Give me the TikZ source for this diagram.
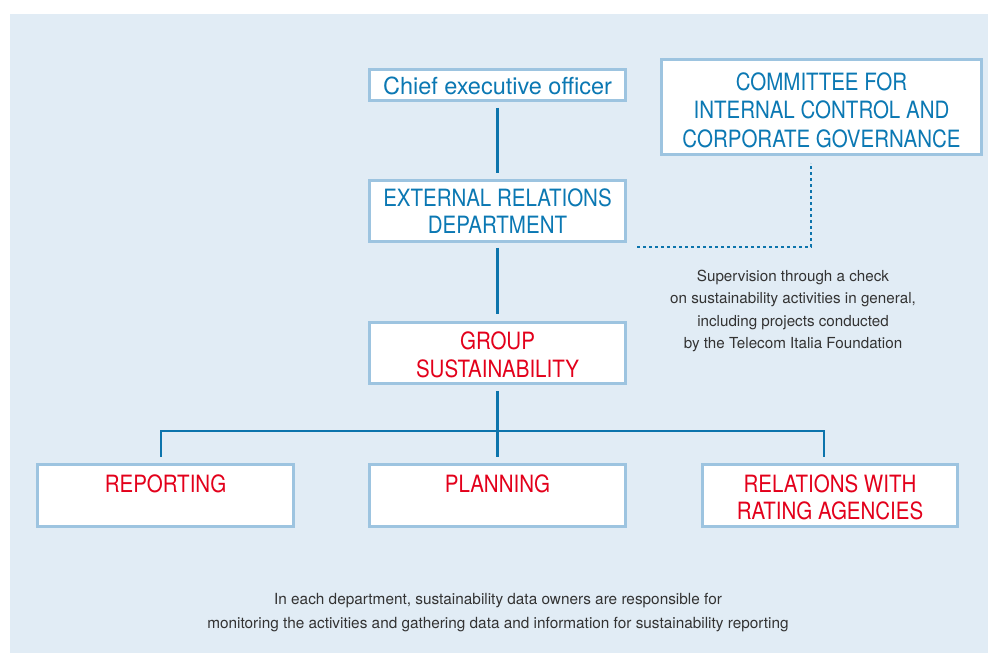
\documentclass[tikz,border=0pt]{standalone}
\usepackage{fontspec}
\setmainfont{TeX Gyre Heros}
\newfontfamily\condfont{TeX Gyre Heros}[FakeStretch=0.862]
\definecolor{panelbg}{HTML}{E1ECF5}
\definecolor{boxborder}{HTML}{9DC4E0}
\definecolor{lineblue}{HTML}{0C74AC}
\definecolor{textblue}{HTML}{0B78B3}
\definecolor{textred}{HTML}{E3001B}
\definecolor{textgray}{HTML}{333333}
\newcommand{\lift}[1]{\rule{0pt}{#1}}
\tikzset{
  box/.style={draw=boxborder, line width=3pt, fill=white, inner sep=0pt, align=center},
  captext/.style={font=\condfont\fontsize{23.8}{27.5}\selectfont},
  bluebox/.style={box, captext, text=textblue},
  redbox/.style={box, captext, text=textred},
  conn/.style={draw=lineblue, line width=2.6pt},
  dotconn/.style={draw=lineblue, line width=2.5pt, dash pattern=on 2.5pt off 3.5pt},
  note/.style={text=textgray, align=center, inner sep=0pt}
}
\begin{document}
\begin{tikzpicture}[x=1pt,y=1pt]
\useasboundingbox (0,0) rectangle (988,653);
\fill[white] (0,0) rectangle (988,653);
\fill[panelbg] (10,0) rectangle (988,639);

\node[bluebox, minimum width=256, minimum height=31,
  font=\fontsize{23.5}{27.5}\selectfont] (ceo) at (497.5,568) {\lift{19pt}Chief executive officer};
\node[bluebox, minimum width=320, minimum height=95,
  font=\condfont\fontsize{23.8}{28.5}\selectfont] (com) at (821.5,546)
  {\lift{24pt}COMMITTEE FOR\\INTERNAL CONTROL AND\\CORPORATE GOVERNANCE};
\node[bluebox, minimum width=256, minimum height=61] (ext) at (497.5,442)
  {EXTERNAL RELATIONS\\DEPARTMENT};
\node[redbox, minimum width=256, minimum height=61] (grp) at (497.5,300)
  {\lift{21pt}GROUP\\SUSTAINABILITY};
\node[redbox, minimum width=256, minimum height=62] (rep) at (165.5,157.5)
  {\lift{21pt}REPORTING\\\phantom{D}};
\node[redbox, minimum width=256, minimum height=62] (pla) at (497.5,157.5)
  {\lift{21pt}PLANNING\\\phantom{D}};
\node[redbox, minimum width=255, minimum height=62] (rel) at (830,157.5)
  {\lift{21pt}RELATIONS WITH\\RATING AGENCIES};

\node[note, font=\fontsize{15.2}{22.3}\selectfont] (sup) at (793,342)
  {Supervision through a check\\on sustainability activities in general,\\including projects conducted\\by the Telecom Italia Foundation};
\node[note, font=\fontsize{15.35}{24}\selectfont] (foot) at (498,40)
  {In each department, sustainability data owners are responsible for\\monitoring the activities and gathering data and information for sustainability reporting};

\draw[conn] ([yshift=-6pt]ceo.south) -- ([yshift=6pt]ext.north);
\draw[conn] ([yshift=-5pt]ext.south) -- ([yshift=7pt]grp.north);
\draw[conn] ([yshift=-6pt]grp.south) -- ([yshift=6pt]pla.north);
\draw[conn] ([xshift=-4.5pt,yshift=6pt]rep.north) -- ++(0,26) -| ([xshift=-6pt,yshift=6pt]rel.north);
\draw[dotconn] ([xshift=10pt,yshift=-4pt]ext.south east) -| ([xshift=-10.5pt,yshift=-7pt]com.south);
\end{tikzpicture}
\end{document}
